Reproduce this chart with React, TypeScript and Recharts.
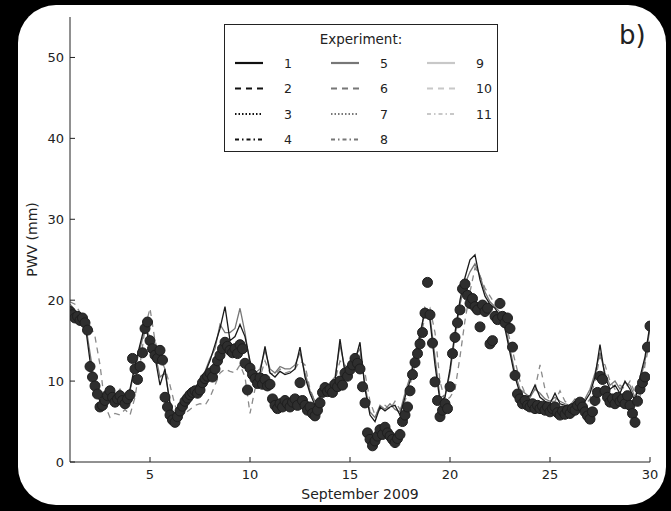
import { ComposedChart, Legend, Line, XAxis, YAxis } from "recharts";

// model output is 6-hourly, observations 3-hourly, both from 1 Sep
const START_DAY = 1;
const MODEL_STEP = 0.25;
const OBS_STEP = 0.125;

const observed = [
  18.6, 18.2, 17.8, 18.0, 17.5, 17.8, 17.2, 16.3,
  11.8, 10.5, 9.4, 8.4, 6.8, 7.0, 7.6, 8.2,
  8.8, 8.0, 7.4, 7.8, 8.2, 7.6, 7.2, 7.8,
  8.3, 12.8, 11.5, 10.2, 11.8, 13.5, 16.5, 17.3,
  15.0, 14.0, 13.2, 12.8, 13.8, 12.6, 8.0, 6.8,
  5.8, 5.2, 4.9, 5.6, 6.3, 6.9, 7.5, 7.9,
  8.3, 8.6, 8.8, 8.5, 8.9, 9.8, 10.3, 10.6,
  11.0, 10.5, 11.5, 12.5, 13.2, 14.0, 14.8, 14.3,
  13.8, 13.5, 14.0, 13.4, 14.5, 14.0, 12.2, 8.9,
  11.6, 10.8, 10.3, 9.7, 10.4, 9.6, 10.2, 9.4,
  9.6, 7.8, 7.0, 6.6, 7.2, 6.8, 7.6, 7.2,
  6.8, 7.4, 7.8, 7.0, 9.8, 7.6, 7.0, 6.4,
  6.8, 6.0, 5.7, 6.4, 7.3, 8.6, 9.2, 8.7,
  9.0, 8.6, 9.6, 9.3, 10.0, 9.5, 11.0, 10.6,
  11.4, 12.0, 12.8, 12.2, 11.5, 9.3, 7.3, 3.6,
  2.8, 2.0, 2.6, 3.2, 4.0, 3.4, 4.3, 3.6,
  3.2, 2.8, 2.4, 2.9, 3.4, 5.0, 5.8, 6.8,
  8.8, 10.8, 12.3, 13.4, 14.6, 16.0, 18.4, 22.2,
  18.2, 14.7, 9.9, 7.6, 5.6, 6.4, 7.2, 6.6,
  9.3, 13.4, 15.4, 17.2, 18.8, 21.4, 22.0, 20.6,
  19.6, 20.2, 19.2, 18.8, 16.7, 19.4, 18.6, 19.0,
  14.6, 15.0, 18.0, 17.6, 19.6, 18.0, 17.2, 17.8,
  16.5, 14.2, 10.7, 8.4, 7.8, 7.2, 7.6, 7.0,
  6.8, 7.2, 6.6, 7.0, 6.6, 6.9, 6.4, 6.8,
  6.2, 6.6, 6.8, 6.1, 5.8, 6.3, 5.9, 6.4,
  6.0, 6.6, 6.4, 7.0, 7.4, 6.8, 6.2, 5.7,
  5.3, 6.2, 7.6, 8.6, 10.6, 10.2, 8.8, 8.0,
  7.4, 7.8, 7.2, 8.0, 7.5, 7.8, 7.2, 8.2,
  7.0, 6.0, 4.9, 7.5, 9.0, 9.8, 10.5, 14.2,
  16.8,
];

const exp1 = [
  19.0, 18.6, 18.0, 17.2, 12.5, 9.0, 7.5, 8.5, 9.0, 7.8, 8.6, 8.2, 9.0, 12.0, 14.5, 17.0,
  14.5, 13.0, 9.5, 11.5, 7.0, 5.2, 6.5, 8.0, 8.8, 9.2, 10.0, 11.0, 12.5, 14.5, 16.5, 19.2,
  15.0, 15.5, 17.0, 15.5, 12.5, 10.5, 11.0, 14.3, 11.0, 10.5, 11.2, 10.8, 11.0, 11.5, 14.2, 10.5,
  8.5, 7.0, 8.0, 9.0, 9.5, 10.0, 15.2, 11.0, 11.5, 12.5, 14.8, 9.0, 5.8, 5.0, 6.8, 6.3,
  6.8, 7.0, 5.8, 8.0, 10.0, 13.0, 15.5, 19.0, 17.5, 12.0, 7.5, 8.0, 11.5, 16.0, 20.0, 22.8,
  25.0, 25.6, 22.5, 20.5, 19.5, 19.0, 18.0, 16.5, 13.5, 10.5, 8.5, 8.0, 8.2, 9.5, 8.0, 7.5,
  7.2, 8.5, 7.2, 7.0, 6.8, 7.5, 7.0, 7.5, 8.5, 10.5, 14.5, 10.5, 9.0, 9.5, 8.5, 10.0,
  9.0, 7.5, 10.5, 13.0, 17.0,
];

const exp5 = [
  19.5, 18.8, 18.2, 17.5, 13.5, 9.5, 8.0, 8.8, 8.5, 8.2, 9.0, 8.0, 8.8, 11.5, 14.0, 16.5,
  15.5, 13.5, 10.5, 11.0, 7.5, 5.5, 6.8, 8.2, 8.6, 9.0, 10.2, 11.2, 12.8, 14.0, 17.0, 16.0,
  16.0, 16.5, 19.0, 16.0, 12.0, 11.0, 11.5, 13.8, 11.5, 11.0, 11.8, 11.5, 11.5, 12.0, 13.5, 11.0,
  8.8, 7.5, 8.2, 9.2, 9.8, 10.5, 14.5, 11.5, 11.8, 13.0, 14.0, 9.5, 6.2, 5.5, 7.0, 6.5,
  7.2, 6.5, 6.2, 8.5, 10.5, 13.5, 16.0, 18.5, 18.0, 13.0, 8.0, 8.2, 11.0, 15.5, 19.5, 22.0,
  23.5, 24.5, 23.0, 21.0, 19.8, 19.2, 18.5, 17.0, 14.0, 11.0, 9.0, 8.5, 8.0, 9.0, 8.5, 7.8,
  7.5, 8.0, 7.5, 7.2, 7.0, 7.8, 7.2, 7.8, 9.0, 11.0, 13.5, 11.0, 9.5, 10.0, 9.0, 9.8,
  9.5, 8.0, 10.0, 12.5, 16.5,
];

const exp6 = [
  19.8, 19.5, 18.5, 17.8, 17.0, 15.5, 12.0, 7.0, 5.5, 6.0, 5.8, 6.5, 5.8, 8.0, 12.0, 16.5,
  19.0, 15.0, 13.0, 11.5, 9.5, 7.0, 5.5, 6.0, 6.5, 7.0, 7.2, 7.0, 8.0, 9.5, 11.0, 11.5,
  11.2, 11.0, 12.0, 10.5, 6.0, 9.0, 10.5, 12.5, 11.0, 10.8, 11.5, 11.0, 11.2, 11.5, 12.5, 12.0,
  9.0, 7.5, 7.8, 8.5, 9.2, 10.0, 12.5, 12.0, 11.0, 12.0, 13.5, 11.0, 7.5, 5.8, 6.5, 7.0,
  6.5, 7.5, 6.5, 7.5, 9.5, 12.0, 15.0, 18.0, 19.0, 16.0, 10.0, 7.5, 8.0, 9.0, 13.0, 17.5,
  21.0, 24.0, 23.0, 21.5, 20.5, 19.5, 19.0, 17.5, 15.0, 12.5, 10.0, 8.5, 8.0, 9.0, 12.0, 9.0,
  7.5, 7.5, 8.8, 7.5, 7.0, 7.2, 7.5, 7.0, 7.8, 10.0, 13.0, 12.0, 10.0, 9.0, 9.5, 9.0,
  10.0, 8.5, 8.0, 12.0, 15.0,
];

const xTicks = [5, 10, 15, 20, 25, 30];
const yTicks = [0, 10, 20, 30, 40, 50];

const modelData = exp1.map((v, i) => ({
  day: START_DAY + i * MODEL_STEP,
  exp1: v,
  exp5: exp5[i],
  exp6: exp6[i],
}));

const obsData = observed.map((obs, i) => ({ day: START_DAY + i * OBS_STEP, obs }));

// legend: three columns as in the figure
const legendCols = [
  [
    { label: "1", color: "#111", dash: undefined },
    { label: "2", color: "#111", dash: "6 5" },
    { label: "3", color: "#111", dash: "1.5 2" },
    { label: "4", color: "#111", dash: "4 3 1.5 3" },
  ],
  [
    { label: "5", color: "#777", dash: undefined },
    { label: "6", color: "#777", dash: "6 5" },
    { label: "7", color: "#777", dash: "1.5 2" },
    { label: "8", color: "#777", dash: "4 3 1.5 3" },
  ],
  [
    { label: "9", color: "#c8c8c8", dash: undefined },
    { label: "10", color: "#c8c8c8", dash: "6 5" },
    { label: "11", color: "#c8c8c8", dash: "4 3 1.5 3" },
  ],
];

const FONT = "DejaVu Sans, sans-serif";
const INK = "#222";

const BottomTick = (props: any) => {
  const { x, y, payload } = props;
  return (
    <g>
      <line x1={x} y1={y} x2={x} y2={y - 5} stroke={INK} />
      <text x={x} y={y + 17} textAnchor="middle" fontSize={13} fontFamily={FONT} fill={INK}>
        {payload.value}
      </text>
    </g>
  );
};

const TopTick = (props: any) => {
  const { x, y } = props;
  return <line x1={x} y1={y} x2={x} y2={y + 5} stroke={INK} />;
};

const LeftTick = (props: any) => {
  const { x, y, payload } = props;
  return (
    <g>
      <line x1={x} y1={y} x2={x + 5} y2={y} stroke={INK} />
      <text x={x - 6} y={y + 5} textAnchor="end" fontSize={13} fontFamily={FONT} fill={INK}>
        {payload.value}
      </text>
    </g>
  );
};

const RightTick = (props: any) => {
  const { x, y } = props;
  return <line x1={x} y1={y} x2={x - 5} y2={y} stroke={INK} />;
};

const ExperimentLegend = () => (
  <svg width={275} height={129} style={{ display: "block" }}>
    <rect x={0.5} y={0.5} width={273} height={127} fill="#fff" stroke={INK} />
    <text x={137} y={20} textAnchor="middle" fontSize={13.5} fontFamily={FONT} fill={INK}>
      Experiment:
    </text>
    {legendCols.map((col, c) =>
      col.map((item, r) => {
        const x0 = 11 + c * 96;
        const y0 = 39 + r * 25.5;
        return (
          <g key={item.label}>
            <line
              x1={x0}
              y1={y0}
              x2={x0 + 28}
              y2={y0}
              stroke={item.color}
              strokeWidth={2.2}
              strokeDasharray={item.dash}
            />
            <text x={x0 + 49} y={y0 + 4.5} fontSize={12.5} fontFamily={FONT} fill={INK}>
              {item.label}
            </text>
          </g>
        );
      })
    )}
  </svg>
);

export default function App() {
  return (
    <div
      style={{
        position: "fixed",
        left: 0,
        top: 0,
        width: 671,
        height: 511,
        background: "#000",
        fontFamily: FONT,
      }}
    >
      <div
        style={{
          position: "absolute",
          left: 18,
          top: 5,
          width: 648,
          height: 500,
          background: "#fff",
          borderRadius: 38,
        }}
      />
      <div style={{ position: "absolute", left: 0, top: 0 }}>
        <ComposedChart
          width={671}
          height={511}
          data={modelData}
          margin={{ top: 17, right: 21, bottom: 19, left: 20 }}
        >
          <XAxis
            dataKey="day"
            type="number"
            domain={[1, 30]}
            ticks={xTicks}
            allowDataOverflow
            height={30}
            tickSize={0}
            tickMargin={0}
            tickLine={false}
            axisLine={{ stroke: INK }}
            tick={BottomTick}
            label={{
              value: "September 2009",
              position: "insideBottom",
              offset: -7,
              fontSize: 14,
              fontFamily: FONT,
              fill: INK,
            }}
          />
          <XAxis
            xAxisId="top"
            dataKey="day"
            orientation="top"
            type="number"
            domain={[1, 30]}
            ticks={xTicks}
            allowDataOverflow
            height={0}
            tickSize={0}
            tickMargin={0}
            tickLine={false}
            axisLine={{ stroke: INK }}
            tick={TopTick}
          />
          <YAxis
            type="number"
            domain={[0, 55]}
            ticks={yTicks}
            allowDataOverflow
            width={50}
            tickSize={0}
            tickMargin={0}
            tickLine={false}
            axisLine={{ stroke: INK }}
            tick={LeftTick}
            label={{
              value: "PWV (mm)",
              angle: -90,
              position: "insideLeft",
              offset: 12,
              fontSize: 14,
              fontFamily: FONT,
              fill: INK,
              style: { textAnchor: "middle" },
            }}
          />
          <YAxis
            yAxisId="right"
            orientation="right"
            type="number"
            domain={[0, 55]}
            ticks={yTicks}
            allowDataOverflow
            width={0}
            tickSize={0}
            tickMargin={0}
            tickLine={false}
            axisLine={{ stroke: INK }}
            tick={RightTick}
          />
          <Legend
            layout="horizontal"
            verticalAlign="middle"
            align="center"
            wrapperStyle={{ left: 224, top: 24, width: 275, height: 129 }}
            content={() => <ExperimentLegend />}
          />
          <Line
            dataKey="exp6"
            stroke="#8a8a8a"
            strokeWidth={1.3}
            strokeDasharray="6 5"
            dot={false}
            isAnimationActive={false}
          />
          <Line
            dataKey="exp5"
            stroke="#777"
            strokeWidth={1.3}
            dot={false}
            isAnimationActive={false}
          />
          <Line
            dataKey="exp1"
            stroke="#1a1a1a"
            strokeWidth={1.3}
            dot={false}
            isAnimationActive={false}
          />
          <Line
            data={obsData}
            dataKey="obs"
            stroke="none"
            dot={{ r: 5, fill: "#2e2e2e", stroke: "#1e1e1e", strokeWidth: 1 }}
            isAnimationActive={false}
          />
        </ComposedChart>
      </div>
      <div
        style={{
          position: "absolute",
          left: 619,
          top: 20,
          fontSize: 26,
          lineHeight: "30px",
          color: INK,
        }}
      >
        b)
      </div>
    </div>
  );
}
